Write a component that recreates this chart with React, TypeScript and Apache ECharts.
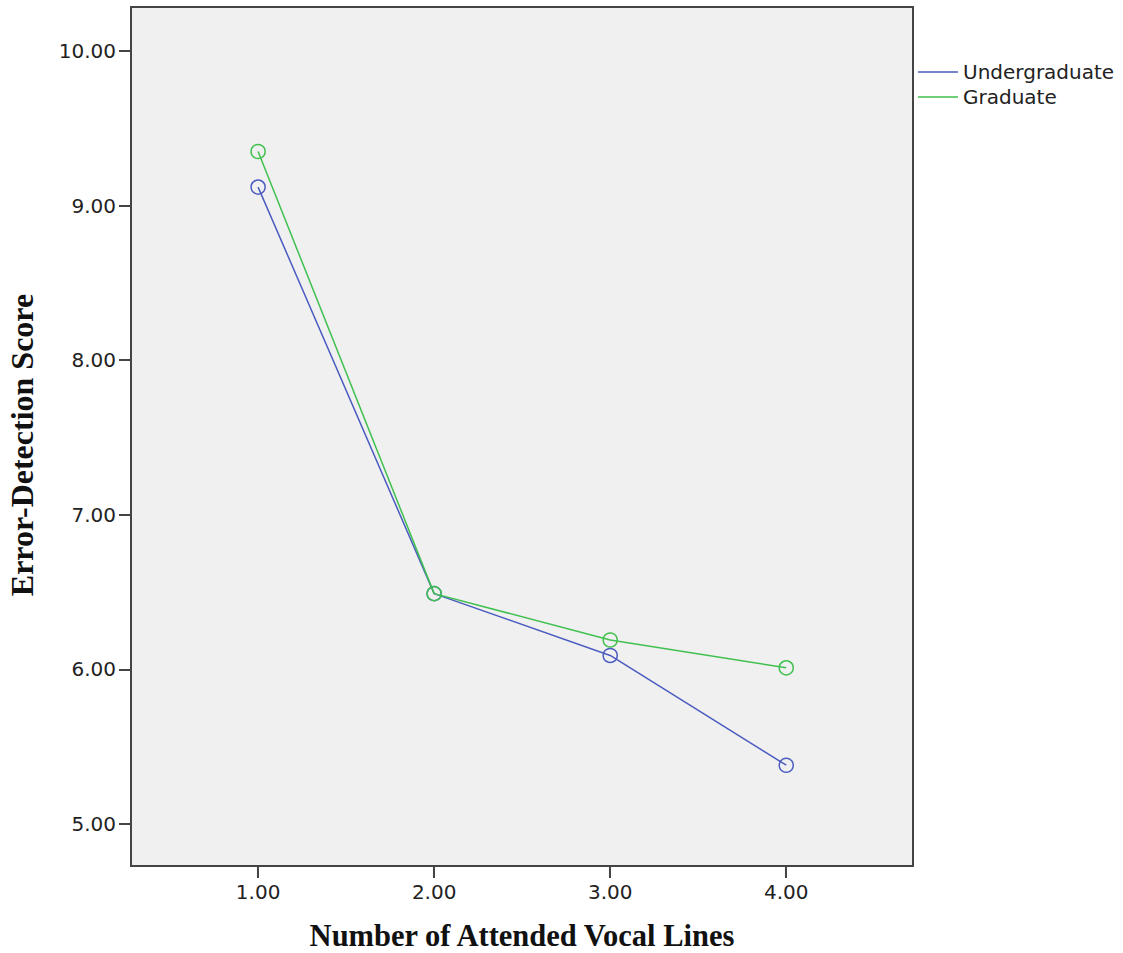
import React, { useEffect, useRef } from "react";
import * as echarts from "echarts";

const xValues = [1, 2, 3, 4];
const undergraduate = [9.12, 6.49, 6.09, 5.38];
const graduate = [9.35, 6.49, 6.19, 6.01];
const yTicks = [5, 6, 7, 8, 9, 10];
const seriesNames = ["Undergraduate", "Graduate"];
const seriesColors = ["#4a5cc0", "#40c04e"];

export default function App() {
  const ref = useRef<HTMLDivElement>(null);
  useEffect(() => {
    document.body.style.margin = "0";
    const chart = echarts.init(ref.current!, null, { renderer: "svg" });
    const frame = "#444";
    const labelStyle = {
      fontFamily: "DejaVu Sans",
      fontSize: 20,
      color: "#222",
    };
    const titleStyle = {
      fontFamily: "Liberation Serif",
      fontWeight: "bold",
      fontSize: 30.5,
      color: "#111",
    };
    chart.setOption({
      animation: false,
      backgroundColor: "#fff",
      grid: {
        left: 131,
        right: 210,
        top: 7,
        bottom: 87,
        outerBoundsMode: "none",
        containLabel: false,
        show: true,
        backgroundColor: "#f0f0f0",
        borderColor: frame,
        borderWidth: 2,
      },
      legend: {
        orient: "vertical",
        left: 918,
        top: 62,
        padding: 0,
        icon: "rect",
        itemWidth: 40,
        itemHeight: 1.6,
        itemGap: 5,
        data: seriesNames.map((n, i) => ({
          name: n,
          itemStyle: { color: seriesColors[i], borderWidth: 0 },
        })),
        textStyle: { ...labelStyle, padding: [0, 0, 0, 0], lineHeight: 20 },
      },
      graphic: [
        {
          type: "text",
          x: 22,
          y: 445,
          rotation: Math.PI / 2,
          style: {
            text: "Error-Detection Score",
            x: 0,
            y: 0,
            align: "center",
            verticalAlign: "middle",
            fill: "#111",
            font: "bold 32px 'Liberation Serif'",
          },
        },
      ],
      xAxis: {
        type: "value",
        min: 0.278,
        max: 4.72,
        splitLine: { show: false },
        axisLine: { show: true, lineStyle: { color: frame, width: 2 } },
        axisTick: {
          show: true,
          length: 12,
          customValues: xValues,
          lineStyle: { color: frame, width: 2 },
        },
        axisLabel: {
          ...labelStyle,
          margin: 16,
          customValues: xValues,
          formatter: (v: number) => v.toFixed(2),
        },
        name: "Number of Attended Vocal Lines",
        nameLocation: "middle",
        nameGap: 54,
        nameTextStyle: titleStyle,
      },
      yAxis: {
        type: "value",
        min: 4.728,
        max: 10.285,
        splitLine: { show: false },
        axisLine: { show: true, lineStyle: { color: frame, width: 2 } },
        axisTick: {
          show: true,
          length: 12,
          customValues: yTicks,
          lineStyle: { color: frame, width: 2 },
        },
        axisLabel: {
          ...labelStyle,
          margin: 15,
          customValues: yTicks,
          formatter: (v: number) => v.toFixed(2),
        },
      },
      series: [undergraduate, graduate].map((vals, s) => ({
        name: seriesNames[s],
        type: "line",
        data: xValues.map((x, i) => [x, vals[i]]),
        symbol: "circle",
        symbolSize: 14,
        z: 3 + s,
        lineStyle: { width: 1.5, color: seriesColors[s] },
        itemStyle: {
          color: "transparent",
          borderColor: seriesColors[s],
          borderWidth: 1.5,
        },
      })),
    });
    return () => chart.dispose();
  }, []);
  return <div ref={ref} style={{ width: 1123, height: 953 }} />;
}
